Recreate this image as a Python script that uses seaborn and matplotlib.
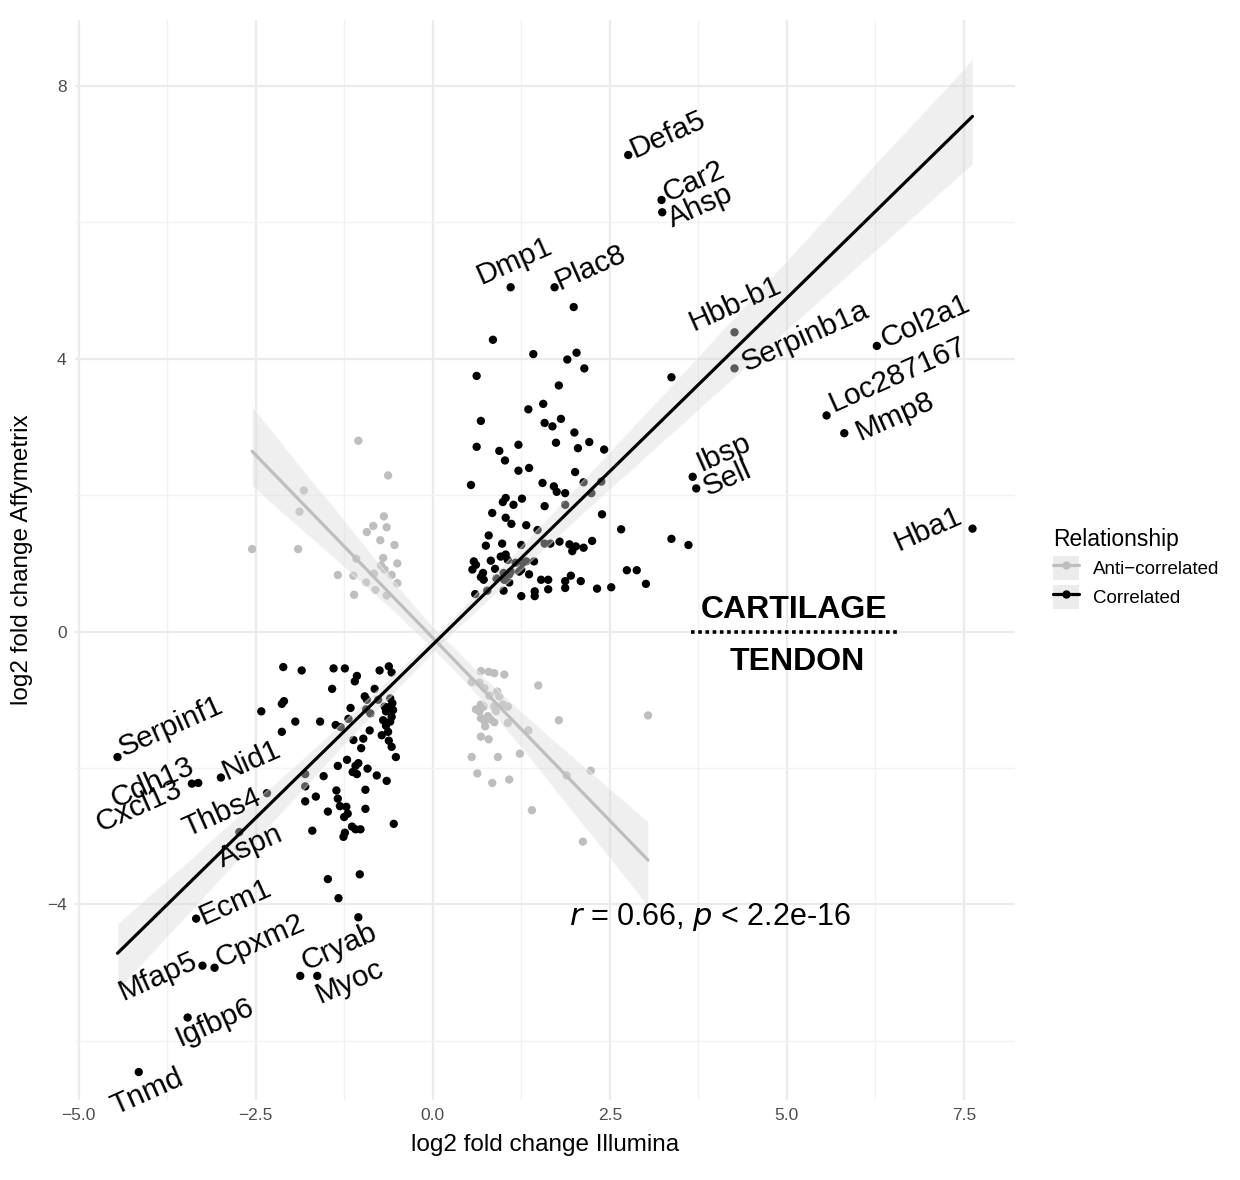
import numpy as np
import pandas as pd
import seaborn as sns
import matplotlib.pyplot as plt
from matplotlib.lines import Line2D
from matplotlib.patches import Patch

# correlated genes (unlabelled)
cor_x = [1.99, 0.85, 1.42, 1.90, 2.03, 2.14, 0.62, 3.37, 1.78, 1.35, 1.56, 0.68, 1.58, 1.69,
         1.81, 2.00, 0.62, 0.94, 1.21, 1.74, 2.05, 2.21, 2.42, 1.02, 1.21, 1.36, 2.01, 0.54,
         1.55, 1.71, 1.75, 1.87, 2.13, 2.38, 2.24, 1.87, 1.03, 0.99, 1.14, 1.26, 1.58, 0.84,
         1.03, 1.11, 1.32, 2.39, 2.66, 3.37, 3.61, 0.79, 0.75, 0.98, 1.48, 1.25, 1.58, 1.66,
         1.79, 1.93, 1.97, 2.02, 2.13, 2.25, 0.96, 1.03, 1.06, 0.58, 0.56, 0.71, 0.82, 0.88,
         1.00, 1.43, 1.17, 0.72, 1.00, 1.25, 1.44, 1.44, 1.53, 1.63, 1.63, 1.87, 1.87, 1.95,
         2.09, 2.32, 2.52, 2.74, 2.88, 3.01, 0.60, 0.77, 0.90, 1.08, 0.61, 0.68, 1.08, 1.10,
         1.01, 1.27, 1.32, 1.25, 1.22, 1.36,
         -2.11, -1.85, -1.40, -1.24, -1.07, -1.10, -0.75, -0.62, -0.58, -1.42, -0.82, -2.13,
         -2.10, -2.42, -1.94, -1.59, -2.13, -1.37, -1.30, -1.19, -1.16, -0.96, -0.93, -0.94,
         -0.88, -0.77, -0.68, -0.66, -0.60, -0.60, -0.57, -0.56, -0.58, -0.60, -0.66, -0.63,
         -0.70, -0.72, -0.62, -0.89, -0.98, -1.12, -1.01, -0.58, -0.52, -1.21, -1.09, -1.05,
         -1.13, -1.07, -0.92, -1.34, -1.54, -1.80, -0.79, -0.65, -1.80, -1.36, -0.95, -1.65,
         -1.80, -1.34, -1.31, -1.48, -1.22, -1.20, -1.25, -0.95, -0.55, -1.14, -1.09, -1.02,
         -1.24, -1.26, -1.70, -1.48, -1.03, -1.33, -1.05]
cor_y = [4.76, 4.28, 4.07, 3.99, 4.09, 3.86, 3.75, 3.73, 3.61, 3.26, 3.34, 3.09, 3.06, 3.01,
         3.12, 2.92, 2.71, 2.65, 2.74, 2.77, 2.69, 2.78, 2.67, 2.51, 2.36, 2.40, 2.34, 2.15,
         2.18, 2.13, 2.05, 2.03, 2.19, 2.20, 2.03, 1.86, 1.96, 1.90, 1.86, 1.95, 1.84, 1.74,
         1.67, 1.58, 1.56, 1.72, 1.50, 1.36, 1.27, 1.41, 1.26, 1.29, 1.49, 1.27, 1.29, 1.29,
         1.32, 1.28, 1.18, 1.25, 1.23, 1.33, 1.10, 1.13, 1.05, 1.03, 0.91, 0.86, 1.04, 0.92,
         0.86, 1.03, 1.01, 0.76, 0.60, 0.52, 0.59, 0.52, 0.76, 0.76, 0.62, 0.74, 0.64, 0.82,
         0.74, 0.63, 0.65, 0.90, 0.90, 0.70, 0.55, 0.60, 0.78, 0.72, 0.98, 0.80, 0.84, 0.88,
         0.76, 1.01, 1.03, 0.91, 0.88, 0.84,
         -0.52, -0.57, -0.54, -0.54, -0.65, -0.73, -0.57, -0.51, -0.60, -0.84, -0.84, -1.06,
         -1.02, -1.17, -1.32, -1.32, -1.47, -1.37, -1.40, -1.28, -1.12, -0.95, -1.00, -1.14,
         -1.20, -1.00, -1.10, -1.17, -1.10, -0.98, -1.05, -1.15, -1.25, -1.32, -1.38, -1.47,
         -1.30, -1.52, -1.60, -1.45, -1.57, -1.59, -1.71, -1.69, -1.84, -1.88, -1.97, -1.93,
         -2.06, -2.09, -2.01, -1.97, -2.12, -2.09, -2.11, -2.19, -2.27, -2.33, -2.32, -2.42,
         -2.49, -2.45, -2.56, -2.64, -2.57, -2.67, -2.72, -2.60, -2.82, -2.86, -2.90, -2.90,
         -2.95, -3.01, -2.92, -3.63, -3.56, -3.91, -4.19]

# labelled (correlated) genes
genes = ["Defa5", "Car2", "Ahsp", "Dmp1", "Plac8", "Hbb-b1", "Serpinb1a", "Col2a1",
         "Loc287167", "Mmp8", "Ibsp", "Sell", "Hba1", "Serpinf1", "Cdh13", "Cxcl13", "Nid1",
         "Thbs4", "Aspn", "Ecm1", "Mfap5", "Cpxm2", "Cryab", "Myoc", "Igfbp6", "Tnmd"]
gene_x = [2.76, 3.23, 3.24, 1.10, 1.72, 4.26, 4.26, 6.27, 5.56, 5.81, 3.67, 3.72, 7.62,
          -4.45, -3.31, -3.40, -2.99, -2.34, -2.73, -3.34, -3.25, -3.08, -1.87, -1.63,
          -3.46, -4.15]
gene_y = [6.99, 6.33, 6.15, 5.05, 5.05, 4.39, 3.86, 4.19, 3.17, 2.91, 2.27, 2.10, 1.51,
          -1.84, -2.22, -2.23, -2.14, -2.37, -2.94, -4.21, -4.90, -4.93, -5.05, -5.05,
          -5.66, -6.46]

# anti-correlated genes
anti_x = [-1.05, -0.63, -1.82, -1.88, -2.55, -1.90, -0.69, -0.84, -0.65, -0.93, -0.74, -0.54,
          -0.70, -1.08, -0.50, -0.73, -0.68, -0.83, -0.58, -1.34, -1.12, -0.94, -0.50, -0.81,
          -1.11, -0.65,
          0.68, 0.79, 0.87, 1.01, 0.55, 0.66, 0.73, 1.49, 0.91, 0.94, 0.80, 0.68, 0.61, 0.66,
          0.72, 0.87, 0.89, 1.06, 0.99, 0.68, 0.73, 0.78, 0.82, 0.87, 1.06, 0.74, 1.35, 1.78,
          3.04, 0.68, 0.79, 0.55, 0.92, 1.23, 0.63, 0.84, 1.08, 1.89, 2.23, 1.40, 2.12]
anti_y = [2.80, 2.29, 2.07, 1.76, 1.21, 1.21, 1.69, 1.55, 1.53, 1.46, 1.34, 1.27,
          1.08, 1.07, 1.00, 0.97, 0.91, 0.85, 0.83, 0.83, 0.82, 0.72, 0.71, 0.61,
          0.54, 0.53,
          -0.58, -0.59, -0.61, -0.63, -0.74, -0.75, -0.83, -0.79, -0.88, -0.95, -0.94, -1.07,
          -1.14, -1.17, -1.10, -1.10, -1.17, -1.10, -1.07, -1.27, -1.31, -1.24, -1.29, -1.33,
          -1.34, -1.39, -1.45, -1.30, -1.23, -1.54, -1.58, -1.84, -1.84, -1.79, -2.08, -2.22,
          -2.17, -2.11, -2.04, -2.62, -3.08]

groups = ["Anti\u2212correlated", "Correlated"]
colors = ["#bebebe", "#000000"]
band_ci = [95, 80]

x_ticks = [-5, -2.5, 0, 2.5, 5, 7.5]
x_tick_labels = ["\u22125.0", "\u22122.5", "0.0", "2.5", "5.0", "7.5"]
y_ticks = [-4, 0, 4, 8]
y_tick_labels = ["\u22124", "0", "4", "8"]

df = pd.DataFrame({
    "illumina": anti_x + cor_x + gene_x,
    "affy": anti_y + cor_y + gene_y,
    "rel": [groups[0]] * len(anti_x) + [groups[1]] * (len(cor_x) + len(gene_x)),
})

sns.set_theme(style="white")
plt.rcParams["font.family"] = ["Liberation Sans", "DejaVu Sans"]
plt.rcParams["text.color"] = "black"
plt.rcParams["axes.labelcolor"] = "black"

fig = plt.figure(figsize=(12.4, 11.8), dpi=100)
ax = fig.add_axes([75 / 1240, 80 / 1180, 940 / 1240, 1080 / 1180])

sns.scatterplot(data=df, x="illumina", y="affy", hue="rel", hue_order=groups,
                palette=colors, s=36, linewidth=0, legend=False, ax=ax, zorder=2)

for g, c, ci in zip(groups, colors, band_ci):
    sub = df[df.rel == g]
    sns.regplot(data=sub, x="illumina", y="affy", scatter=False, color=c, ax=ax,
                ci=ci, seed=0, line_kws={"lw": 2.3, "zorder": 4})
    band = ax.collections[-1]
    band.set_facecolor("#dadada")
    band.set_alpha(0.42)
    band.set_zorder(3)

# gene labels: (ha, offset in pixels)
label_pos = {
    "Defa5": ("left", 6, -3), "Car2": ("left", 6, -2), "Ahsp": ("left", 10, -15),
    "Dmp1": ("center", 7, 19), "Plac8": ("left", 5, -3), "Hbb-b1": ("left", -41, 1),
    "Serpinb1a": ("left", 12, -3), "Col2a1": ("left", 9, -2), "Loc287167": ("left", 7, 3),
    "Mmp8": ("left", 16, -7), "Ibsp": ("left", 8, 5), "Sell": ("left", 11, -8),
    "Hba1": ("right", -9, 7), "Serpinf1": ("left", 6, 1), "Cdh13": ("right", -2, 11),
    "Cxcl13": ("right", -8, -11), "Nid1": ("left", 6, -2), "Thbs4": ("right", -4, -10),
    "Aspn": ("left", -17, -35), "Ecm1": ("left", 7, -6), "Mfap5": ("right", -4, -1),
    "Cpxm2": ("left", 6, 0), "Cryab": ("left", 6, 5), "Myoc": ("left", 3, -28),
    "Igfbp6": ("left", -8, -29), "Tnmd": ("left", -23, -43),
}
for name, gx, gy in zip(genes, gene_x, gene_y):
    ha, dx, dy = label_pos[name]
    ax.annotate(name, (gx, gy), xytext=(dx, dy), textcoords="offset pixels",
                ha=ha, va="baseline", rotation=24, rotation_mode="anchor",
                fontsize=21.5, color="black", zorder=5)

ax.text(5.1, 0.32, "CARTILAGE", ha="center", va="center", fontsize=23, fontweight="bold")
ax.text(5.15, -0.44, "TENDON", ha="center", va="center", fontsize=23, fontweight="bold")
ax.hlines(0, 3.65, 6.6, colors="black", linestyles=(0, (1, 1)), lw=2.6, zorder=4)
ax.text(3.91, -4.19, r"$\it{r}$ = 0.66, $\it{p}$ < 2.2e-16", ha="center", va="center",
        fontsize=22)

ax.set_xlim(-5.05, 8.22)
ax.set_ylim(-6.87, 8.97)
ax.set_xticks(x_ticks, labels=x_tick_labels)
ax.set_yticks(y_ticks, labels=y_tick_labels)
ax.set_xticks([-3.75, -1.25, 1.25, 3.75, 6.25], minor=True)
ax.set_yticks([-6, -2, 2, 6], minor=True)
ax.grid(which="major", color="#ebebeb", lw=1.6)
ax.grid(which="minor", color="#f2f2f2", lw=1.0)
ax.set_axisbelow(True)
for s in ax.spines.values():
    s.set_visible(False)
ax.tick_params(which="both", length=0, labelsize=12.5, labelcolor="#4d4d4d", pad=6)
ax.set_xlabel("log2 fold change Illumina", fontsize=17.5, labelpad=8)
ax.set_ylabel("log2 fold change Affymetrix", fontsize=17.5, labelpad=10)

handles = [(Patch(facecolor="#ececec", edgecolor="none"),
            Line2D([], [], color=c, lw=2.3, marker="o", markersize=5))
           for c in colors]
leg = fig.legend(handles, groups, title="Relationship", loc="upper left",
                 bbox_to_anchor=(1040 / 1240, 1 - 515 / 1180), frameon=False,
                 fontsize=13.5, title_fontsize=16.5, handlelength=1.4, handleheight=1.6,
                 handletextpad=0.7, labelspacing=0.25, borderpad=0.2)
leg._legend_box.align = "left"

fig.savefig("out.png", dpi=100)
